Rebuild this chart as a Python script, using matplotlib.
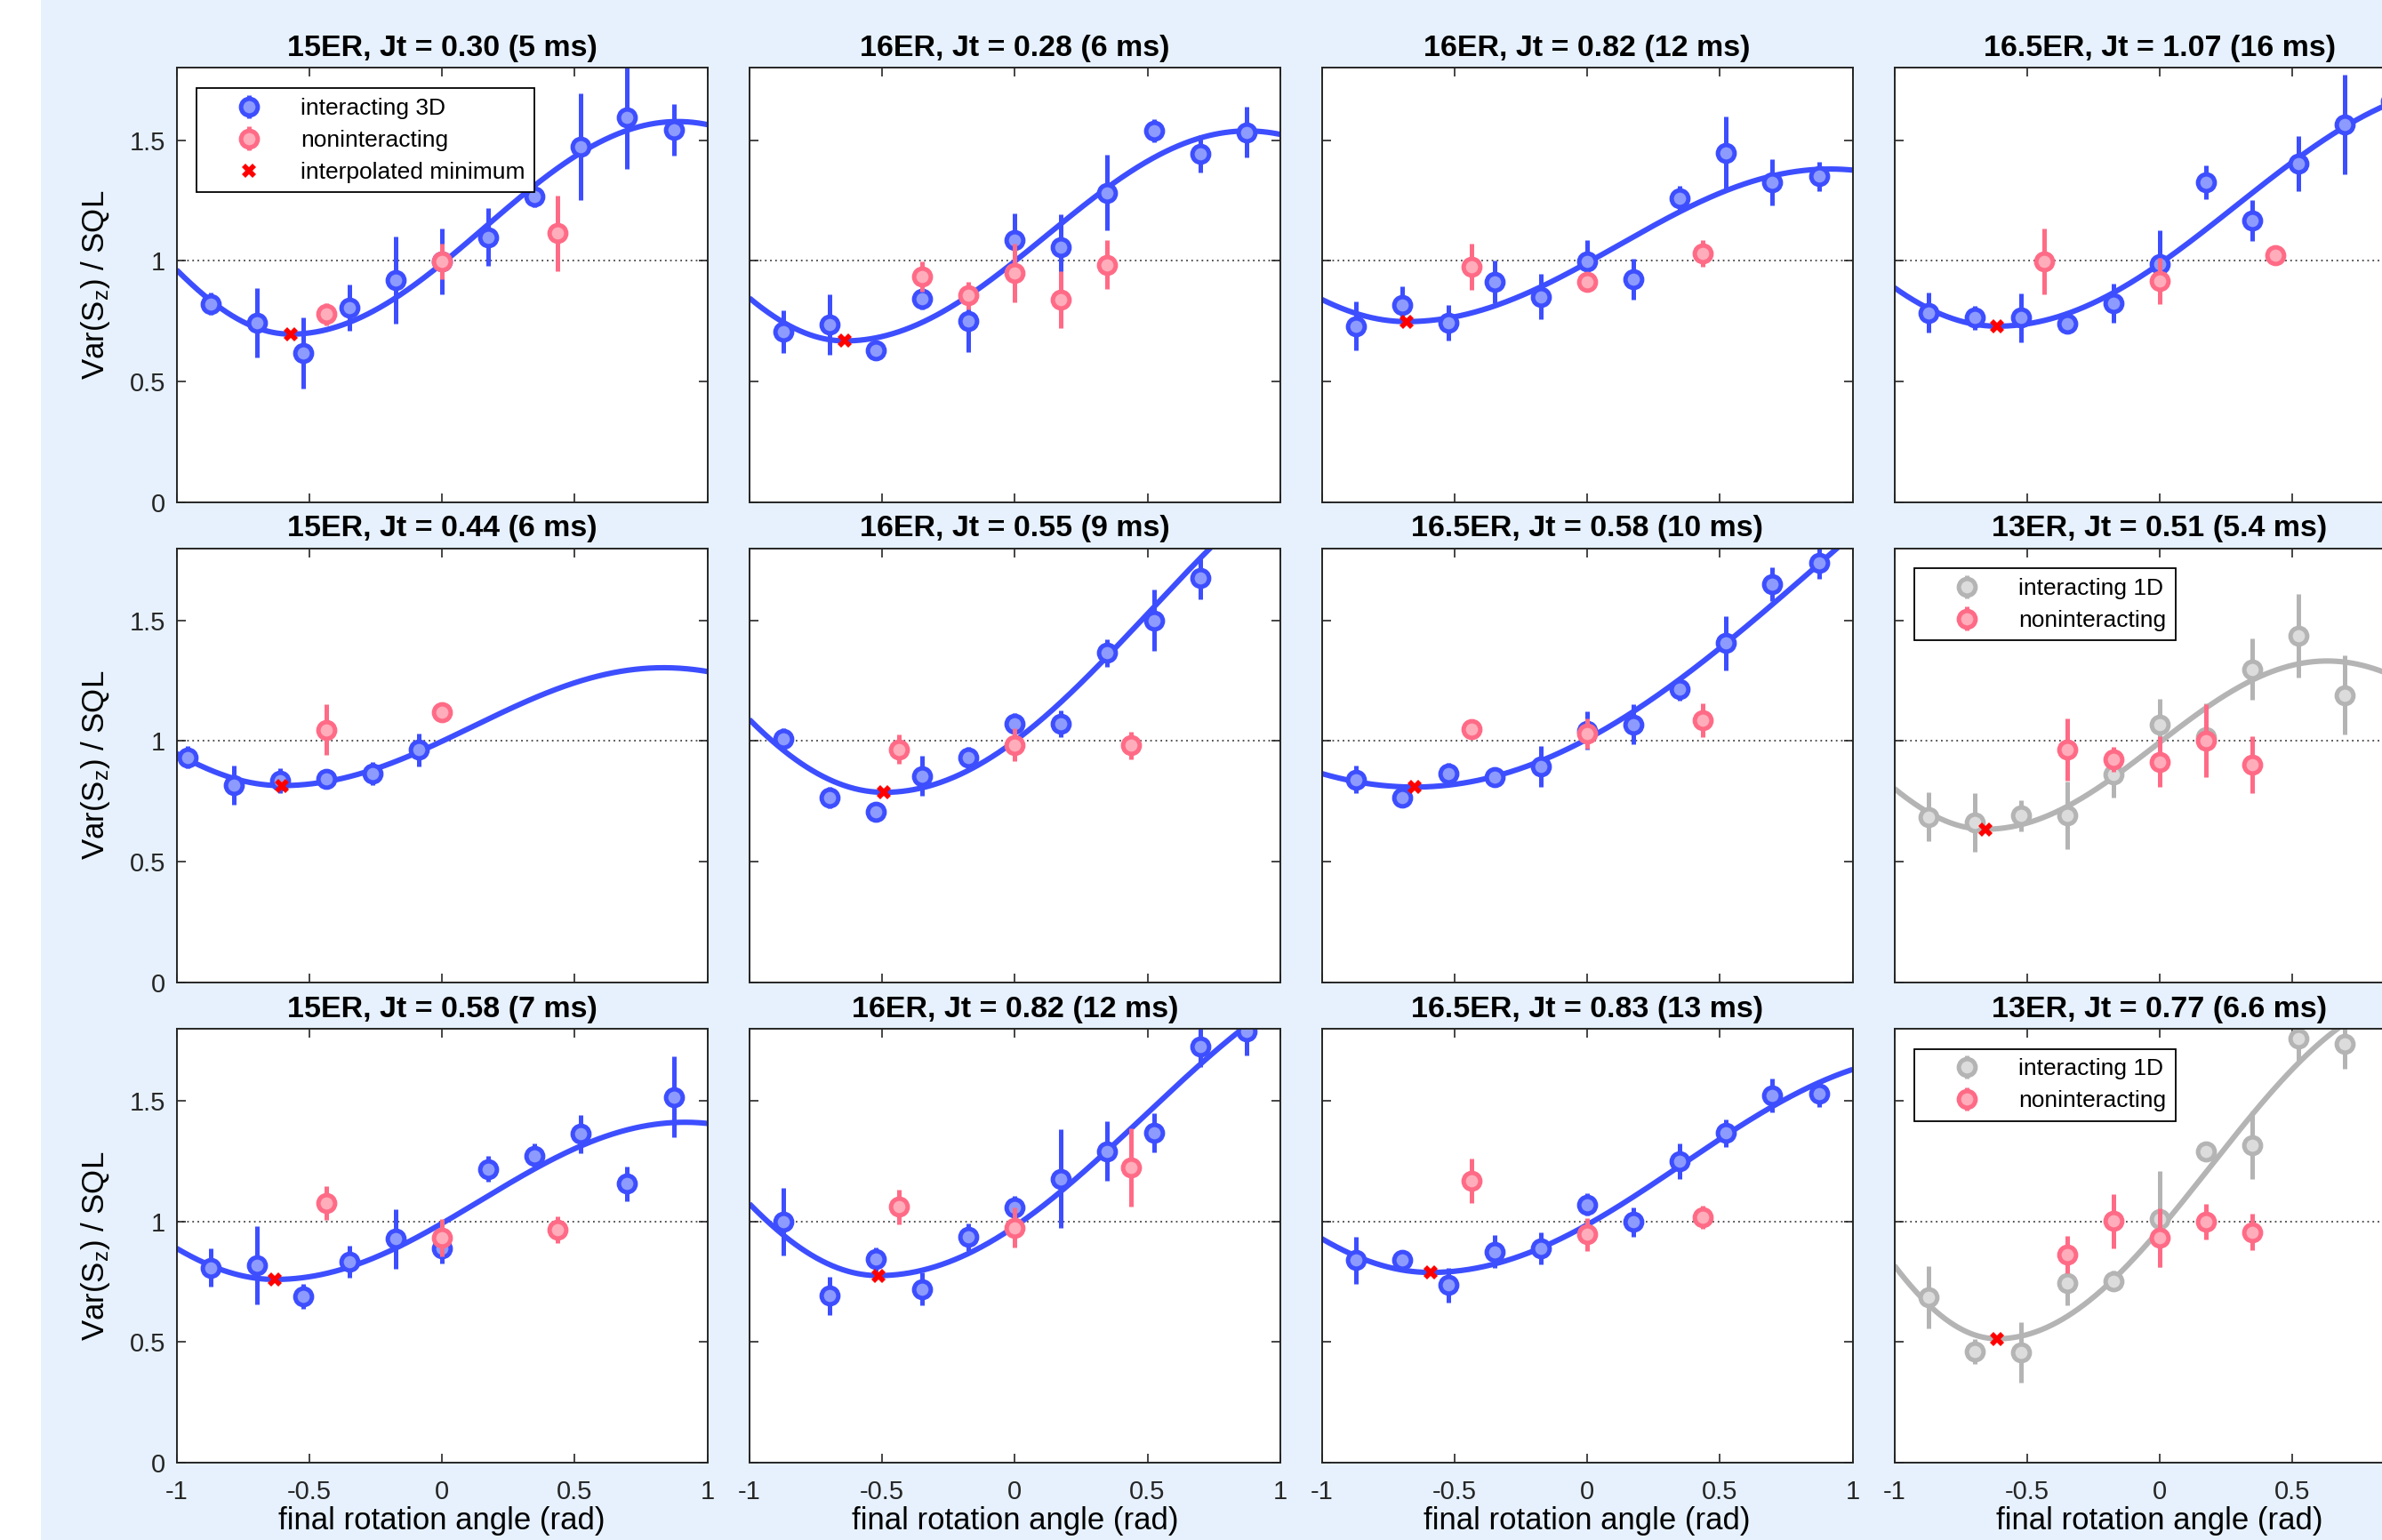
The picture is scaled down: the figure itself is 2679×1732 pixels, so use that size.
import numpy as np
import matplotlib
matplotlib.use("Agg")
import matplotlib.pyplot as plt
from matplotlib.ticker import FuncFormatter

plt.rcParams['font.family'] = 'Liberation Sans'
plt.rcParams['mathtext.default'] = 'regular'
plt.rcParams['axes.unicode_minus'] = False

titles = ["15ER, Jt = 0.30 (5 ms)", "16ER, Jt = 0.28 (6 ms)", "16ER, Jt = 0.82 (12 ms)", "16.5ER, Jt = 1.07 (16 ms)",
          "15ER, Jt = 0.44 (6 ms)", "16ER, Jt = 0.55 (9 ms)", "16.5ER, Jt = 0.58 (10 ms)", "13ER, Jt = 0.51 (5.4 ms)",
          "15ER, Jt = 0.58 (7 ms)", "16ER, Jt = 0.82 (12 ms)", "16.5ER, Jt = 0.83 (13 ms)", "13ER, Jt = 0.77 (6.6 ms)"]
one_d = [False, False, False, False, False, False, False, True, False, False, False, True]

deg11 = [-50, -40, -30, -20, -10, 0, 10, 20, 30, 40, 50]
deg10 = [-50, -40, -30, -20, -10, 0, 10, 20, 30, 40]

# interacting runs: rotation angle (deg), Var(Sz)/SQL, error bar
int_deg = [deg11, deg11, deg11, deg11,
           [-55, -45, -35, -25, -15, -5], deg10, deg11, deg10,
           deg11, deg11, deg11, deg10]
int_var = [[0.822, 0.744, 0.619, 0.806, 0.920, 0.998, 1.098, 1.268, 1.474, 1.597, 1.544],
           [0.707, 0.736, 0.629, 0.844, 0.750, 1.086, 1.055, 1.283, 1.541, 1.443, 1.534],
           [0.729, 0.818, 0.742, 0.914, 0.852, 0.998, 0.924, 1.261, 1.449, 1.326, 1.351],
           [0.785, 0.764, 0.764, 0.739, 0.825, 0.988, 1.326, 1.168, 1.403, 1.566, 1.660],
           [0.932, 0.818, 0.834, 0.844, 0.865, 0.963],
           [1.010, 0.766, 0.708, 0.855, 0.932, 1.071, 1.071, 1.365, 1.501, 1.677],
           [0.840, 0.766, 0.865, 0.852, 0.895, 1.043, 1.068, 1.215, 1.406, 1.652, 1.738],
           [0.686, 0.662, 0.690, 0.690, 0.862, 1.068, 1.018, 1.298, 1.437, 1.191],
           [0.809, 0.818, 0.690, 0.834, 0.929, 0.889, 1.219, 1.271, 1.363, 1.157, 1.517],
           [0.998, 0.692, 0.844, 0.720, 0.936, 1.059, 1.178, 1.292, 1.369, 1.726, 1.790],
           [0.840, 0.840, 0.736, 0.875, 0.889, 1.071, 0.998, 1.249, 1.367, 1.523, 1.529],
           [0.686, 0.461, 0.456, 0.744, 0.754, 1.010, 1.292, 1.317, 1.760, 1.738]]
int_err = [[0.047, 0.143, 0.148, 0.095, 0.181, 0.137, 0.120, 0.047, 0.221, 0.214, 0.108],
           [0.089, 0.125, 0.020, 0.046, 0.129, 0.110, 0.137, 0.157, 0.048, 0.078, 0.106],
           [0.101, 0.076, 0.074, 0.089, 0.094, 0.090, 0.086, 0.049, 0.149, 0.095, 0.061],
           [0.084, 0.051, 0.102, 0.020, 0.080, 0.140, 0.071, 0.084, 0.115, 0.205, 0.080],
           [0.046, 0.082, 0.052, 0.038, 0.047, 0.069],
           [0.044, 0.045, 0.020, 0.083, 0.043, 0.046, 0.055, 0.057, 0.128, 0.088],
           [0.058, 0.025, 0.043, 0.020, 0.084, 0.079, 0.083, 0.049, 0.113, 0.070, 0.065],
           [0.100, 0.123, 0.065, 0.140, 0.097, 0.108, 0.140, 0.126, 0.174, 0.163],
           [0.079, 0.163, 0.051, 0.067, 0.124, 0.062, 0.052, 0.054, 0.080, 0.071, 0.168],
           [0.140, 0.080, 0.050, 0.068, 0.057, 0.049, 0.205, 0.123, 0.082, 0.086, 0.100],
           [0.098, 0.030, 0.072, 0.068, 0.065, 0.046, 0.060, 0.074, 0.057, 0.069, 0.055],
           [0.128, 0.050, 0.125, 0.090, 0.043, 0.200, 0.040, 0.140, 0.100, 0.104]]

# noninteracting reference runs
non_deg = [[-25, 0, 25], [-20, -10, 0, 10, 20], [-25, 0, 25], [-25, 0, 25],
           [-25, 0], [-25, 0, 25], [-25, 0, 25], [-20, -10, 0, 10, 20],
           [-25, 0, 25], [-25, 0, 25], [-25, 0, 25], [-20, -10, 0, 10, 20]]
non_var = [[0.779, 0.998, 1.114], [0.936, 0.856, 0.951, 0.840, 0.984], [0.975, 0.914, 1.031], [0.998, 0.916, 1.022],
           [1.047, 1.121], [0.966, 0.984, 0.982], [1.049, 1.031, 1.086], [0.963, 0.923, 0.914, 1.002, 0.902],
           [1.077, 0.932, 0.967], [1.062, 0.975, 1.225], [1.169, 0.947, 1.018], [0.862, 1.002, 0.932, 0.998, 0.957]]
non_err = [[0.047, 0.074, 0.157], [0.063, 0.058, 0.122, 0.119, 0.102], [0.097, 0.030, 0.057], [0.138, 0.095, 0.020],
           [0.105, 0.020], [0.060, 0.069, 0.058], [0.020, 0.063, 0.069], [0.129, 0.052, 0.105, 0.151, 0.117],
           [0.069, 0.077, 0.055], [0.072, 0.084, 0.162], [0.093, 0.068, 0.049], [0.078, 0.113, 0.122, 0.074, 0.074]]

# fitted curve: minimum position (rad) and value, peak-to-valley amplitude,
# half period on the left / right side of the minimum
fit_xmin = [-0.570, -0.640, -0.680, -0.612, -0.605, -0.492, -0.651, -0.658, -0.629, -0.514, -0.590, -0.612]
fit_ymin = [0.696, 0.668, 0.748, 0.729, 0.815, 0.787, 0.809, 0.634, 0.760, 0.776, 0.789, 0.514]
fit_amp = [0.882, 0.871, 0.633, 1.000, 0.489, 1.500, 1.900, 0.698, 0.652, 1.320, 0.900, 1.420]
fit_hl = [1.160, 1.206, 1.285, 1.481, 1.131, 1.714, 3.180, 1.044, 1.264, 1.542, 1.588, 1.267]
fit_hr = [1.458, 1.516, 1.595, 1.800, 1.440, 2.000, 3.100, 1.289, 1.544, 2.000, 1.900, 1.600]

blue, blue_fill = '#3d4eff', '#8d9bff'
pink, pink_fill = '#ff6b86', '#ffadbb'
gray, gray_fill = '#b4b4b4', '#dcdcdc'
axcol = '#262626'

W, H = 2679, 1732
fig = plt.figure(figsize=(W / 100, H / 100), dpi=100, facecolor='#e6f1fd')
fig.patches.append(plt.Rectangle((0, 0), 46 / W, 1, transform=fig.transFigure,
                                 facecolor='white', edgecolor='none', zorder=0))

col_left = [198.6, 842.8, 1486.6, 2130.5]
row_top = [76.5, 616.5, 1157.0]
aw, ah = 597.0, 488.0

xfit = np.linspace(-1, 1, 500)
fmt = FuncFormatter(lambda v, p: '%g' % v)

for i in range(12):
    r, c = divmod(i, 4)
    ax = fig.add_axes([col_left[c] / W, 1 - (row_top[r] + ah) / H, aw / W, ah / H])
    ecol, fcol = (gray, gray_fill) if one_d[i] else (blue, blue_fill)

    ax.axhline(1, color='#444444', lw=1.3, ls=(0, (1, 2.2)), zorder=0.5)

    # fitted curve, cosine-shaped on each side of the minimum
    h = np.where(xfit < fit_xmin[i], fit_hl[i], fit_hr[i])
    yfit = fit_ymin[i] + fit_amp[i] * (1 - np.cos(np.pi * (xfit - fit_xmin[i]) / h)) / 2
    ax.plot(xfit, yfit, color=ecol, lw=4.4, zorder=1, solid_capstyle='butt')

    eb1 = ax.errorbar(np.deg2rad(int_deg[i]), int_var[i], yerr=int_err[i], fmt='o', ls='none',
                      color=ecol, ecolor=ecol, elinewidth=3.6, capsize=0, ms=13.5,
                      mfc=fcol, mec=ecol, mew=3.6, zorder=2,
                      label='interacting 1D' if one_d[i] else 'interacting 3D')
    eb2 = ax.errorbar(np.deg2rad(non_deg[i]), non_var[i], yerr=non_err[i], fmt='o', ls='none',
                      color=pink, ecolor=pink, elinewidth=3.6, capsize=0, ms=13.5,
                      mfc=pink_fill, mec=pink, mew=3.6, zorder=3, label='noninteracting')
    mn, = ax.plot([fit_xmin[i]], [fit_ymin[i]], 'X', color='red', ms=11, mew=0, zorder=4,
                  label='interpolated minimum')

    ax.set_xlim(-1, 1)
    ax.set_ylim(0, 1.8)
    # the last column runs past the right edge, so its "1" label is left out
    ax.set_xticks([-1, -0.5, 0, 0.5, 1] if c < 3 else [-1, -0.5, 0, 0.5])
    ax.set_yticks([0, 0.5, 1, 1.5])
    ax.xaxis.set_major_formatter(fmt)
    ax.yaxis.set_major_formatter(fmt)
    ax.tick_params(direction='in', top=True, right=True, length=7, width=1.2,
                   colors=axcol, labelsize=21,
                   labelbottom=(r == 2), labelleft=(c == 0))
    ax.tick_params(axis='x', pad=14)
    ax.tick_params(axis='y', pad=9)
    for s in ax.spines.values():
        s.set_color(axcol)
        s.set_linewidth(1.4)
    ax.set_title(titles[i], fontsize=24.5, fontweight='bold', pad=9.5)

    if c == 0:
        ax.set_ylabel('Var(S$_z$) / SQL', fontsize=25, labelpad=14)
    if r == 2:
        ax.set_xlabel('final rotation angle (rad)', fontsize=25, labelpad=1)

    handles = None
    if i == 0:
        handles = [eb1, eb2, mn]
    elif one_d[i]:
        handles = [eb1, eb2]
    if handles:
        leg = ax.legend(handles=handles, loc='upper left', bbox_to_anchor=(0.037, 0.953),
                        borderaxespad=0, fontsize=19, numpoints=1, handlelength=3.7,
                        handletextpad=0.35, borderpad=0.4, labelspacing=0.45,
                        fancybox=False, framealpha=1, edgecolor='black')
        leg.get_frame().set_linewidth(1.3)

fig.savefig('out.png', dpi=100, facecolor=fig.get_facecolor())
